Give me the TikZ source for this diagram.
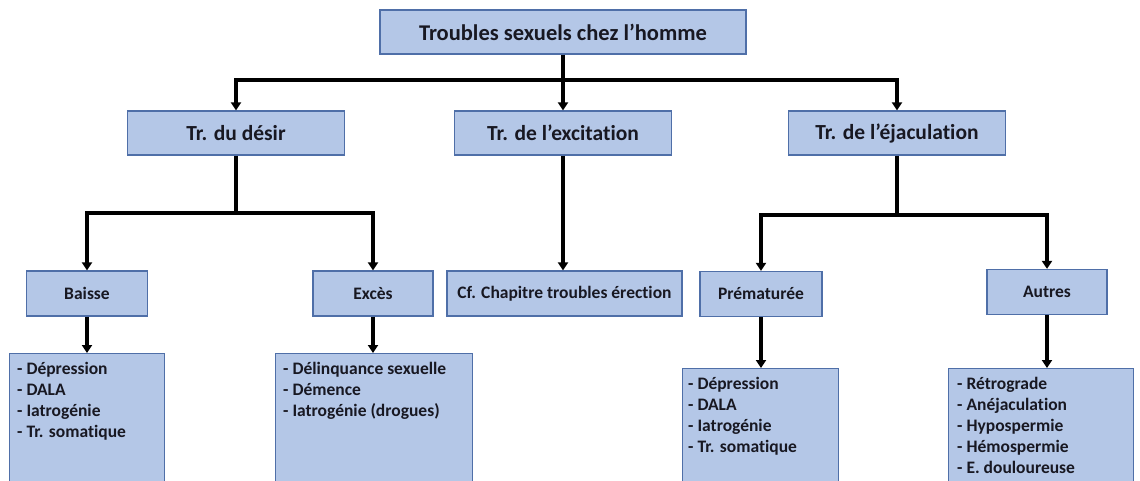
\documentclass[tikz,border=0pt]{standalone}
\usepackage{fontspec}
\setmainfont{Carlito}[Ligatures=NoCommon]
\usetikzlibrary{arrows.meta,calc}
\definecolor{boxfill}{HTML}{B4C7E7}
\definecolor{boxdraw}{HTML}{4F6FA8}
\definecolor{txt}{HTML}{181822}
\begin{document}
\begin{tikzpicture}[x=1pt,y=-1pt,
  box/.style={draw=boxdraw, fill=boxfill, line width=1.3pt, inner sep=0pt, text=txt},
  lvlone/.style={box, font=\bfseries\fontsize{22.5}{26}\selectfont},
  lvltwo/.style={box, font=\bfseries\fontsize{21.5}{25}\selectfont, minimum width=217pt, minimum height=44pt},
  lvlthree/.style={box, font=\bfseries\fontsize{17.5}{20}\selectfont, minimum height=45pt},
  listbox/.style={box, anchor=north west, minimum height=160pt},
  listtext/.style={anchor=north west, inner sep=0pt, align=left, text=txt, font=\bfseries\fontsize{17.5}{21}\selectfont},
  conn/.style={line width=3.2pt, draw=black},
  arr/.style={conn, -{Triangle[width=10pt,length=8pt]}}]
\clip (0,0) rectangle (1140,480);
\fill[white] (0,0) rectangle (1140,480);
% level 1
\node[lvlone, minimum width=366pt, minimum height=44pt] (top) at (563,32) {Troubles sexuels chez l’homme};
% level 2
\node[lvltwo] (desir) at (236,133) {Tr. du désir};
\node[lvltwo] (exc) at (563,133) {Tr. de l’excitation};
\node[lvltwo] (ejac) at (897,133) {Tr. de l’éjaculation};
% level 3
\node[lvlthree, minimum width=121pt] (baisse) at (87,293.5) {Baisse};
\node[lvlthree, minimum width=120pt] (exces) at (373,293.5) {Excès};
\node[lvlthree, minimum width=235pt] (cf) at (564.5,293.5) {Cf. Chapitre troubles érection};
\node[lvlthree, minimum width=122pt] (prem) at (761,294) {Prématurée};
\node[lvlthree, minimum width=120pt] (autres) at (1047,292) {Autres};
% level 4
\node[listbox, minimum width=155pt] (bl) at (9,353) {};
\node[listbox, minimum width=197pt] (el) at (275,353) {};
\node[listbox, minimum width=156pt] (pl) at (682,368) {};
\node[listbox, minimum width=185pt] (al) at (948,368) {};
\node[listtext] (blt) at ($(bl.north west)+(8,9)$) {- Dépression\\- DALA\\- Iatrogénie\\- Tr. somatique};
\node[listtext] (elt) at ($(el.north west)+(8,9)$) {- Délinquance sexuelle\\- Démence\\- Iatrogénie (drogues)};
\node[listtext] (plt) at ($(pl.north west)+(6,9)$) {- Dépression\\- DALA\\- Iatrogénie\\- Tr. somatique};
\node[listtext] (alt) at ($(al.north west)+(9,9)$) {- Rétrograde\\- Anéjaculation\\- Hypospermie\\- Hémospermie\\- E. douloureuse};
% connectors
\coordinate (hub) at (563,80);
\coordinate (dj) at (236,213);
\coordinate (ej) at (897,215);
\draw[arr] (top.south) -- (exc.north);
\draw[arr] (hub) -| (desir.north);
\draw[arr] (hub) -| (ejac.north);
\draw[conn] (desir.south) -- (dj);
\draw[arr] (dj) -| (baisse.north);
\draw[arr] (dj) -| (exces.north);
\draw[arr] (exc.south) -- (exc.south |- cf.north);
\draw[conn] (ejac.south) -- (ej);
\draw[arr] (ej) -| (prem.north);
\draw[arr] (ej) -| (autres.north);
\draw[arr] (baisse.south) -- (baisse.south |- bl.north);
\draw[arr] (exces.south) -- (exces.south |- el.north);
\draw[arr] (prem.south) -- (prem.south |- pl.north);
\draw[arr] (autres.south) -- (autres.south |- al.north);
\end{tikzpicture}
\end{document}
